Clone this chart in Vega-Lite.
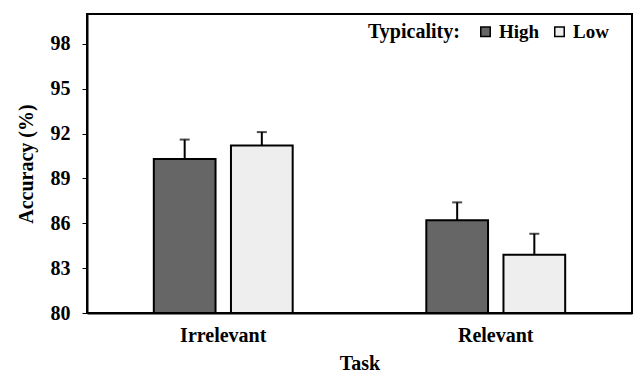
{
  "$schema": "https://vega.github.io/schema/vega-lite/v6.json",
  "width": 545,
  "height": 299,
  "autosize": {"type": "none"},
  "padding": {"left": 87, "top": 14, "right": 1, "bottom": 61},
  "background": "white",
  "config": {
    "font": "Liberation Serif",
    "view": {"stroke": "black", "strokeWidth": 2},
    "axis": {
      "labelFont": "Liberation Serif", "labelFontWeight": "bold", "labelFontSize": 20, "labelColor": "black",
      "titleFont": "Liberation Serif", "titleFontWeight": "bold", "titleFontSize": 20, "titleColor": "black",
      "domainColor": "black", "domainWidth": 2, "tickColor": "black", "grid": false
    },
    "legend": {
      "titleFont": "Liberation Serif", "titleFontWeight": "bold", "titleFontSize": 20, "titleColor": "black",
      "labelFont": "Liberation Serif", "labelFontWeight": "bold", "labelFontSize": 19, "labelColor": "black"
    }
  },
  "data": {
    "values": [
      {"Task": "Irrelevant", "Typicality": "High", "Accuracy": 90.3, "Upper": 91.6},
      {"Task": "Irrelevant", "Typicality": "Low", "Accuracy": 91.2, "Upper": 92.1},
      {"Task": "Relevant", "Typicality": "High", "Accuracy": 86.2, "Upper": 87.4},
      {"Task": "Relevant", "Typicality": "Low", "Accuracy": 83.9, "Upper": 85.3}
    ]
  },
  "encoding": {
    "x": {
      "field": "Task", "type": "nominal", "title": "Task",
      "scale": {"paddingInner": 0, "paddingOuter": 0},
      "axis": {"labelAngle": 0, "ticks": false, "labelPadding": 12, "titlePadding": 8}
    },
    "xOffset": {
      "field": "Typicality", "type": "nominal",
      "scale": {"paddingInner": 0.2, "paddingOuter": 0.866}
    }
  },
  "layer": [
    {
      "mark": {"type": "bar", "stroke": "black", "strokeWidth": 2, "clip": true},
      "encoding": {
        "y": {
          "field": "Accuracy", "type": "quantitative", "title": "Accuracy (%)",
          "scale": {"domain": [80, 100], "nice": false, "zero": false},
          "axis": {"values": [80, 83, 86, 89, 92, 95, 98], "tickSize": 5, "labelPadding": 12, "titlePadding": 14}
        },
        "y2": {"datum": 80},
        "fill": {
          "field": "Typicality", "type": "nominal", "title": "Typicality:",
          "scale": {"domain": ["High", "Low"], "range": ["#666666", "#eeeeee"]},
          "legend": {
            "orient": "none", "legendX": 281, "legendY": 8,
            "direction": "horizontal", "titleOrient": "left",
            "symbolType": "square", "symbolSize": 90,
            "symbolStrokeColor": "black", "symbolStrokeWidth": 1.5,
            "columnPadding": 10, "labelOffset": 4, "titlePadding": 16,
            "titleBaseline": "middle"
          }
        }
      }
    },
    {
      "mark": {"type": "rule", "color": "black", "strokeWidth": 2},
      "encoding": {
        "y": {"field": "Accuracy", "type": "quantitative"},
        "y2": {"field": "Upper"}
      }
    },
    {
      "mark": {"type": "tick", "color": "black", "thickness": 2, "size": 10},
      "encoding": {
        "y": {"field": "Upper", "type": "quantitative"}
      }
    }
  ]
}
